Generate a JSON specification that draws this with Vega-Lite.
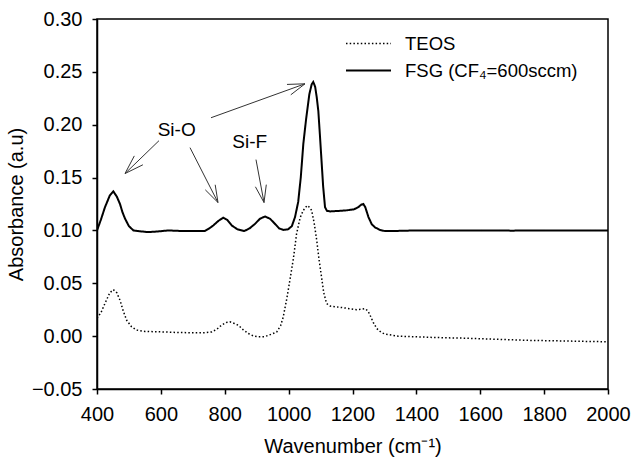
{
  "$schema": "https://vega.github.io/schema/vega-lite/v6.json",
  "autosize": "none",
  "width": 511,
  "height": 370,
  "padding": {"left": 97, "top": 19, "right": 27, "bottom": 72},
  "background": "white",
  "config": {
    "font": "Liberation Sans",
    "view": {"stroke": "black", "strokeWidth": 1.5},
    "axis": {
      "domainColor": "black", "domainWidth": 1.5,
      "tickColor": "black", "tickWidth": 1.5, "tickSize": 5,
      "labelFontSize": 20, "labelColor": "black",
      "titleFontSize": 20, "titleFontWeight": "normal", "titleColor": "black",
      "grid": false
    }
  },
  "datasets": {
    "spectra": [
      {"series": "FSG (CF₄=600sccm)", "w": 400, "a": 0.100},
      {"series": "FSG (CF₄=600sccm)", "w": 412, "a": 0.110},
      {"series": "FSG (CF₄=600sccm)", "w": 425, "a": 0.122},
      {"series": "FSG (CF₄=600sccm)", "w": 440, "a": 0.133},
      {"series": "FSG (CF₄=600sccm)", "w": 451, "a": 0.137},
      {"series": "FSG (CF₄=600sccm)", "w": 462, "a": 0.132},
      {"series": "FSG (CF₄=600sccm)", "w": 472, "a": 0.125},
      {"series": "FSG (CF₄=600sccm)", "w": 480, "a": 0.117},
      {"series": "FSG (CF₄=600sccm)", "w": 488, "a": 0.111},
      {"series": "FSG (CF₄=600sccm)", "w": 500, "a": 0.104},
      {"series": "FSG (CF₄=600sccm)", "w": 514, "a": 0.100},
      {"series": "FSG (CF₄=600sccm)", "w": 540, "a": 0.099},
      {"series": "FSG (CF₄=600sccm)", "w": 561, "a": 0.0984},
      {"series": "FSG (CF₄=600sccm)", "w": 590, "a": 0.099},
      {"series": "FSG (CF₄=600sccm)", "w": 623, "a": 0.100},
      {"series": "FSG (CF₄=600sccm)", "w": 660, "a": 0.0995},
      {"series": "FSG (CF₄=600sccm)", "w": 700, "a": 0.0995},
      {"series": "FSG (CF₄=600sccm)", "w": 738, "a": 0.0995},
      {"series": "FSG (CF₄=600sccm)", "w": 752, "a": 0.102},
      {"series": "FSG (CF₄=600sccm)", "w": 764, "a": 0.1047},
      {"series": "FSG (CF₄=600sccm)", "w": 780, "a": 0.109},
      {"series": "FSG (CF₄=600sccm)", "w": 795, "a": 0.112},
      {"series": "FSG (CF₄=600sccm)", "w": 808, "a": 0.110},
      {"series": "FSG (CF₄=600sccm)", "w": 822, "a": 0.1047},
      {"series": "FSG (CF₄=600sccm)", "w": 840, "a": 0.101},
      {"series": "FSG (CF₄=600sccm)", "w": 861, "a": 0.0994},
      {"series": "FSG (CF₄=600sccm)", "w": 878, "a": 0.102},
      {"series": "FSG (CF₄=600sccm)", "w": 895, "a": 0.1063},
      {"series": "FSG (CF₄=600sccm)", "w": 910, "a": 0.111},
      {"series": "FSG (CF₄=600sccm)", "w": 926, "a": 0.1132},
      {"series": "FSG (CF₄=600sccm)", "w": 942, "a": 0.111},
      {"series": "FSG (CF₄=600sccm)", "w": 957, "a": 0.1063},
      {"series": "FSG (CF₄=600sccm)", "w": 970, "a": 0.102},
      {"series": "FSG (CF₄=600sccm)", "w": 983, "a": 0.1005},
      {"series": "FSG (CF₄=600sccm)", "w": 998, "a": 0.101},
      {"series": "FSG (CF₄=600sccm)", "w": 1010, "a": 0.104},
      {"series": "FSG (CF₄=600sccm)", "w": 1020, "a": 0.1126},
      {"series": "FSG (CF₄=600sccm)", "w": 1030, "a": 0.127},
      {"series": "FSG (CF₄=600sccm)", "w": 1038, "a": 0.150},
      {"series": "FSG (CF₄=600sccm)", "w": 1046, "a": 0.1818},
      {"series": "FSG (CF₄=600sccm)", "w": 1055, "a": 0.206},
      {"series": "FSG (CF₄=600sccm)", "w": 1065, "a": 0.229},
      {"series": "FSG (CF₄=600sccm)", "w": 1072, "a": 0.238},
      {"series": "FSG (CF₄=600sccm)", "w": 1077, "a": 0.2405},
      {"series": "FSG (CF₄=600sccm)", "w": 1083, "a": 0.236},
      {"series": "FSG (CF₄=600sccm)", "w": 1088, "a": 0.226},
      {"series": "FSG (CF₄=600sccm)", "w": 1093, "a": 0.213},
      {"series": "FSG (CF₄=600sccm)", "w": 1098, "a": 0.190},
      {"series": "FSG (CF₄=600sccm)", "w": 1103, "a": 0.166},
      {"series": "FSG (CF₄=600sccm)", "w": 1108, "a": 0.142},
      {"series": "FSG (CF₄=600sccm)", "w": 1114, "a": 0.122},
      {"series": "FSG (CF₄=600sccm)", "w": 1120, "a": 0.1185},
      {"series": "FSG (CF₄=600sccm)", "w": 1130, "a": 0.118},
      {"series": "FSG (CF₄=600sccm)", "w": 1160, "a": 0.1185},
      {"series": "FSG (CF₄=600sccm)", "w": 1182, "a": 0.119},
      {"series": "FSG (CF₄=600sccm)", "w": 1205, "a": 0.120},
      {"series": "FSG (CF₄=600sccm)", "w": 1218, "a": 0.122},
      {"series": "FSG (CF₄=600sccm)", "w": 1228, "a": 0.1245},
      {"series": "FSG (CF₄=600sccm)", "w": 1234, "a": 0.125},
      {"series": "FSG (CF₄=600sccm)", "w": 1240, "a": 0.122},
      {"series": "FSG (CF₄=600sccm)", "w": 1250, "a": 0.1126},
      {"series": "FSG (CF₄=600sccm)", "w": 1260, "a": 0.106},
      {"series": "FSG (CF₄=600sccm)", "w": 1270, "a": 0.103},
      {"series": "FSG (CF₄=600sccm)", "w": 1285, "a": 0.1005},
      {"series": "FSG (CF₄=600sccm)", "w": 1302, "a": 0.0994},
      {"series": "FSG (CF₄=600sccm)", "w": 1350, "a": 0.0996},
      {"series": "FSG (CF₄=600sccm)", "w": 1400, "a": 0.1},
      {"series": "FSG (CF₄=600sccm)", "w": 1500, "a": 0.1},
      {"series": "FSG (CF₄=600sccm)", "w": 1600, "a": 0.1},
      {"series": "FSG (CF₄=600sccm)", "w": 1700, "a": 0.0998},
      {"series": "FSG (CF₄=600sccm)", "w": 1800, "a": 0.1},
      {"series": "FSG (CF₄=600sccm)", "w": 1900, "a": 0.1},
      {"series": "FSG (CF₄=600sccm)", "w": 2000, "a": 0.1},
      {"series": "TEOS", "w": 400, "a": 0.017},
      {"series": "TEOS", "w": 412, "a": 0.022},
      {"series": "TEOS", "w": 425, "a": 0.031},
      {"series": "TEOS", "w": 440, "a": 0.041},
      {"series": "TEOS", "w": 451, "a": 0.044},
      {"series": "TEOS", "w": 462, "a": 0.041},
      {"series": "TEOS", "w": 472, "a": 0.034},
      {"series": "TEOS", "w": 482, "a": 0.024},
      {"series": "TEOS", "w": 493, "a": 0.015},
      {"series": "TEOS", "w": 508, "a": 0.009},
      {"series": "TEOS", "w": 524, "a": 0.0057},
      {"series": "TEOS", "w": 550, "a": 0.0045},
      {"series": "TEOS", "w": 603, "a": 0.004},
      {"series": "TEOS", "w": 650, "a": 0.0035},
      {"series": "TEOS", "w": 707, "a": 0.0031},
      {"series": "TEOS", "w": 740, "a": 0.0033},
      {"series": "TEOS", "w": 759, "a": 0.004},
      {"series": "TEOS", "w": 775, "a": 0.0065},
      {"series": "TEOS", "w": 790, "a": 0.0104},
      {"series": "TEOS", "w": 805, "a": 0.013},
      {"series": "TEOS", "w": 816, "a": 0.0135},
      {"series": "TEOS", "w": 830, "a": 0.012},
      {"series": "TEOS", "w": 842, "a": 0.0104},
      {"series": "TEOS", "w": 858, "a": 0.006},
      {"series": "TEOS", "w": 874, "a": 0.0025},
      {"series": "TEOS", "w": 890, "a": 0.0002},
      {"series": "TEOS", "w": 905, "a": -0.0006},
      {"series": "TEOS", "w": 925, "a": -0.0005},
      {"series": "TEOS", "w": 947, "a": 0.0019},
      {"series": "TEOS", "w": 963, "a": 0.004},
      {"series": "TEOS", "w": 975, "a": 0.010},
      {"series": "TEOS", "w": 983, "a": 0.018},
      {"series": "TEOS", "w": 994, "a": 0.035},
      {"series": "TEOS", "w": 1004, "a": 0.053},
      {"series": "TEOS", "w": 1015, "a": 0.0735},
      {"series": "TEOS", "w": 1025, "a": 0.097},
      {"series": "TEOS", "w": 1036, "a": 0.112},
      {"series": "TEOS", "w": 1046, "a": 0.119},
      {"series": "TEOS", "w": 1058, "a": 0.1236},
      {"series": "TEOS", "w": 1065, "a": 0.122},
      {"series": "TEOS", "w": 1072, "a": 0.119},
      {"series": "TEOS", "w": 1080, "a": 0.107},
      {"series": "TEOS", "w": 1088, "a": 0.0906},
      {"series": "TEOS", "w": 1095, "a": 0.073},
      {"series": "TEOS", "w": 1103, "a": 0.056},
      {"series": "TEOS", "w": 1110, "a": 0.041},
      {"series": "TEOS", "w": 1119, "a": 0.0308},
      {"series": "TEOS", "w": 1130, "a": 0.0285},
      {"series": "TEOS", "w": 1150, "a": 0.0277},
      {"series": "TEOS", "w": 1180, "a": 0.0265},
      {"series": "TEOS", "w": 1213, "a": 0.025},
      {"series": "TEOS", "w": 1230, "a": 0.0255},
      {"series": "TEOS", "w": 1239, "a": 0.026},
      {"series": "TEOS", "w": 1248, "a": 0.024},
      {"series": "TEOS", "w": 1255, "a": 0.0198},
      {"series": "TEOS", "w": 1265, "a": 0.013},
      {"series": "TEOS", "w": 1276, "a": 0.0072},
      {"series": "TEOS", "w": 1290, "a": 0.0035},
      {"series": "TEOS", "w": 1302, "a": 0.0019},
      {"series": "TEOS", "w": 1343, "a": 0.0},
      {"series": "TEOS", "w": 1396, "a": -0.0006},
      {"series": "TEOS", "w": 1450, "a": -0.0012},
      {"series": "TEOS", "w": 1500, "a": -0.0016},
      {"series": "TEOS", "w": 1560, "a": -0.002},
      {"series": "TEOS", "w": 1667, "a": -0.0031},
      {"series": "TEOS", "w": 1750, "a": -0.004},
      {"series": "TEOS", "w": 1850, "a": -0.0045},
      {"series": "TEOS", "w": 1990, "a": -0.0053},
      {"series": "TEOS", "w": 2000, "a": -0.0054}
    ],
    "arrows": [
      {"x1": 594.1, "y1": 0.1849, "x2": 487.7, "y2": 0.1538},
      {"x1": 487.7, "y1": 0.1538, "x2": 543.7, "y2": 0.1621},
      {"x1": 487.7, "y1": 0.1538, "x2": 516.8, "y2": 0.1705},
      {"x1": 691.2, "y1": 0.1783, "x2": 778.9, "y2": 0.1264},
      {"x1": 778.9, "y1": 0.1264, "x2": 770.1, "y2": 0.1432},
      {"x1": 778.9, "y1": 0.1264, "x2": 739.1, "y2": 0.1384},
      {"x1": 756.9, "y1": 0.2066, "x2": 1051.3, "y2": 0.2387},
      {"x1": 1051.3, "y1": 0.2387, "x2": 994.9, "y2": 0.2381},
      {"x1": 1051.3, "y1": 0.2387, "x2": 1006.8, "y2": 0.2283},
      {"x1": 897.8, "y1": 0.1670, "x2": 922.9, "y2": 0.1264},
      {"x1": 922.9, "y1": 0.1264, "x2": 930.1, "y2": 0.1433},
      {"x1": 922.9, "y1": 0.1264, "x2": 896.0, "y2": 0.1413}
    ],
    "labels": [
      {"label": "Si-O", "x": 649.5, "y": 0.1953},
      {"label": "Si-F", "x": 878.1, "y": 0.1833}
    ]
  },
  "layer": [
    {
      "data": {"name": "spectra"},
      "mark": {"type": "line", "color": "black", "clip": true},
      "encoding": {
        "x": {
          "field": "w", "type": "quantitative",
          "scale": {"domain": [400, 2000], "nice": false, "zero": false},
          "axis": {
            "title": "Wavenumber (cm⁻¹)",
            "values": [400, 600, 800, 1000, 1200, 1400, 1600, 1800, 2000],
            "format": "d",
            "labelPadding": 10, "titlePadding": 12, "labelFlush": false, "labelOverlap": false
          }
        },
        "y": {
          "field": "a", "type": "quantitative",
          "scale": {"domain": [-0.05, 0.3], "nice": false, "zero": false},
          "axis": {
            "title": "Absorbance (a.u)",
            "values": [-0.05, 0, 0.05, 0.1, 0.15, 0.2, 0.25, 0.3],
            "format": ".2f",
            "labelPadding": 10, "titlePadding": 5, "labelFlush": false, "labelOverlap": false
          }
        },
        "detail": {"field": "series"},
        "strokeDash": {
          "field": "series", "type": "nominal",
          "scale": {"domain": ["TEOS", "FSG (CF₄=600sccm)"], "range": [[1.5, 2.2], [1, 0]]},
          "legend": {
            "title": null, "orient": "none", "legendX": 248, "legendY": 12,
            "labelFontSize": 18.5, "labelColor": "black", "labelLimit": 0,
            "symbolType": "stroke", "symbolSize": 2025, "symbolStrokeColor": "black",
            "labelOffset": 13, "rowPadding": 2, "clipHeight": 25
          }
        },
        "strokeWidth": {
          "field": "series", "type": "nominal",
          "scale": {"domain": ["TEOS", "FSG (CF₄=600sccm)"], "range": [1.5, 2]},
          "legend": {
            "title": null, "orient": "none", "legendX": 248, "legendY": 12,
            "labelFontSize": 18.5, "labelColor": "black", "labelLimit": 0,
            "symbolType": "stroke", "symbolSize": 2025, "symbolStrokeColor": "black",
            "labelOffset": 13, "rowPadding": 2, "clipHeight": 25
          }
        }
      }
    },
    {
      "data": {"name": "arrows"},
      "mark": {"type": "rule", "color": "#333333", "strokeWidth": 1},
      "encoding": {
        "x": {"field": "x1", "type": "quantitative"},
        "y": {"field": "y1", "type": "quantitative"},
        "x2": {"field": "x2"},
        "y2": {"field": "y2"}
      }
    },
    {
      "data": {"name": "labels"},
      "mark": {"type": "text", "fontSize": 19, "color": "black", "align": "center", "baseline": "middle"},
      "encoding": {
        "x": {"field": "x", "type": "quantitative"},
        "y": {"field": "y", "type": "quantitative"},
        "text": {"field": "label"}
      }
    }
  ]
}
